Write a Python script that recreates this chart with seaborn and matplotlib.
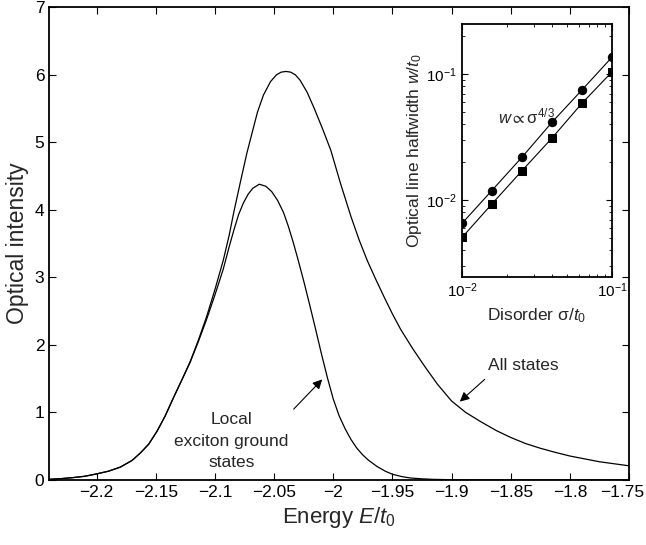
import numpy as np
import pandas as pd
import matplotlib
matplotlib.use("Agg")
import matplotlib.pyplot as plt
import matplotlib.ticker as mticker
import matplotlib.transforms as mtrans
import seaborn as sns

# all states spectrum
all_E = [-2.24, -2.23, -2.22, -2.21, -2.2, -2.19, -2.18, -2.17, -2.163, -2.156,
         -2.149, -2.142, -2.135, -2.128, -2.121, -2.114, -2.107, -2.1, -2.093,
         -2.088, -2.084, -2.078, -2.073, -2.068, -2.064, -2.059, -2.053, -2.048,
         -2.044, -2.04, -2.036, -2.032, -2.028, -2.022, -2.016, -2.009, -2.002,
         -1.994, -1.985, -1.978, -1.971, -1.964, -1.957, -1.95, -1.943, -1.933,
         -1.923, -1.912, -1.9, -1.888, -1.875, -1.862, -1.85, -1.8375, -1.825,
         -1.8125, -1.8, -1.775, -1.75]
all_I = [0.01, 0.02, 0.035, 0.055, 0.09, 0.13, 0.19, 0.29, 0.4, 0.53,
         0.72, 0.95, 1.22, 1.48, 1.75, 2.07, 2.42, 2.82, 3.25,
         3.62, 3.97, 4.45, 4.84, 5.18, 5.45, 5.7, 5.9, 6.0,
         6.04, 6.05, 6.04, 6.0, 5.92, 5.74, 5.5, 5.2, 4.88,
         4.4, 3.9, 3.55, 3.24, 2.97, 2.71, 2.46, 2.23, 1.95,
         1.69, 1.42, 1.17, 1.0, 0.86, 0.73, 0.63, 0.54, 0.47,
         0.41, 0.355, 0.27, 0.21]

# local exciton ground states
loc_E = [-2.24, -2.23, -2.22, -2.21, -2.2, -2.19, -2.18, -2.17, -2.163, -2.156,
         -2.149, -2.142, -2.135, -2.128, -2.121, -2.114, -2.107, -2.1, -2.093,
         -2.088, -2.084, -2.08, -2.076, -2.072, -2.068, -2.0625, -2.057, -2.052,
         -2.047, -2.042, -2.038, -2.034, -2.03, -2.025, -2.02, -2.015, -2.01,
         -2.005, -2.0, -1.995, -1.99, -1.985, -1.98, -1.975, -1.97, -1.963,
         -1.956, -1.95, -1.942, -1.935, -1.925, -1.915, -1.9, -1.88, -1.85, -1.75]
loc_I = [0.01, 0.02, 0.035, 0.055, 0.09, 0.13, 0.19, 0.29, 0.4, 0.53,
         0.72, 0.95, 1.22, 1.48, 1.74, 2.05, 2.38, 2.74, 3.12,
         3.45, 3.7, 3.93, 4.1, 4.23, 4.32, 4.38, 4.35, 4.27,
         4.14, 3.96, 3.76, 3.53, 3.28, 2.95, 2.6, 2.24, 1.87,
         1.52, 1.2, 0.95, 0.76, 0.6, 0.47, 0.37, 0.29, 0.2,
         0.13, 0.085, 0.05, 0.03, 0.017, 0.009, 0.004, 0.001, 0.0, 0.0]

# inset: halfwidth vs disorder
sigma = [0.01, 0.0158, 0.0251, 0.0398, 0.0631, 0.1]
w_circ = [0.00653, 0.0119, 0.0219, 0.0415, 0.075, 0.1365]
w_sq = [0.00505, 0.0093, 0.0171, 0.0311, 0.0588, 0.1043]

xticks = [-2.2, -2.15, -2.1, -2.05, -2.0, -1.95, -1.9, -1.85, -1.8, -1.75]

sns.set_style("ticks")
plt.rcParams['font.family'] = ['Liberation Sans', 'DejaVu Sans']
plt.rcParams['mathtext.fontset'] = 'custom'
plt.rcParams['mathtext.rm'] = 'Liberation Sans'
plt.rcParams['mathtext.it'] = 'Liberation Sans:italic'
plt.rcParams['mathtext.bf'] = 'Liberation Sans:bold'
plt.rcParams['mathtext.fallback'] = 'stixsans'

fig = plt.figure(figsize=(6.46, 5.45), dpi=100)
ax = fig.add_axes([0.0763, 0.1193, 0.8974, 0.8673])

df_all = pd.DataFrame({'E': all_E, 'I': all_I})
df_loc = pd.DataFrame({'E': loc_E, 'I': loc_I})
sns.lineplot(data=df_all, x='E', y='I', ax=ax, color='black', lw=0.9,
             sort=False, estimator=None)
sns.lineplot(data=df_loc, x='E', y='I', ax=ax, color='black', lw=0.9,
             sort=False, estimator=None)

ax.set_xlim(-2.24, -1.75)
ax.set_ylim(0, 7)
ax.set_xticks(xticks)
ax.set_yticks(range(0, 8))
ax.xaxis.set_major_formatter(mticker.FuncFormatter(
    lambda v, p: ('%g' % round(v, 3)).replace('-', '\u2212')))
ax.tick_params(direction='in', top=True, right=True, length=5, width=0.8,
               labelsize=12.5, colors='black')
for s in ax.spines.values():
    s.set_linewidth(1.3)
    s.set_color('black')
ax.set_xlabel('Energy $E/t_0$', fontsize=16)
ax.set_ylabel('Optical intensity', fontsize=16.5)

# last tick label sits right at the figure edge, nudge it in a bit
last = ax.xaxis.get_major_ticks()[-1].label1
last.set_transform(last.get_transform() +
                   mtrans.ScaledTranslation(-5 / 72, 0, fig.dpi_scale_trans))

# annotations
ax.text(-2.086, 0.89, 'Local', ha='center', va='center', fontsize=12.5)
ax.text(-2.086, 0.57, 'exciton ground', ha='center', va='center', fontsize=12.5)
ax.text(-2.086, 0.26, 'states', ha='center', va='center', fontsize=12.5)
ax.annotate('', xy=(-2.0093, 1.49), xytext=(-2.0334, 1.05),
            arrowprops=dict(arrowstyle='-|>', color='black', lw=0.8,
                            mutation_scale=14, shrinkA=0, shrinkB=0))
ax.text(-1.839, 1.70, 'All states', ha='center', va='center', fontsize=12.5)
ax.annotate('', xy=(-1.893, 1.16), xytext=(-1.872, 1.49),
            arrowprops=dict(arrowstyle='-|>', color='black', lw=0.8,
                            mutation_scale=14, shrinkA=0, shrinkB=0))

# inset
ins = fig.add_axes([0.7152, 0.4917, 0.2322, 0.4642])
df_in = pd.DataFrame({'s': sigma, 'c': w_circ, 'q': w_sq})
sns.lineplot(data=df_in, x='s', y='c', ax=ins, color='black', lw=0.8,
             marker='o', markersize=6, markeredgecolor='black')
sns.lineplot(data=df_in, x='s', y='q', ax=ins, color='black', lw=0.8,
             marker='s', markersize=5.5, markeredgecolor='black')
ins.set_xscale('log')
ins.set_yscale('log')
ins.set_xlim(0.01, 0.1)
ins.set_ylim(0.00245, 0.25)
ins.set_yticks([0.01, 0.1])
ins.set_xticks([0.01, 0.1])
ins.xaxis.set_minor_formatter(mticker.NullFormatter())
ins.yaxis.set_minor_formatter(mticker.NullFormatter())
ins.tick_params(which='both', direction='in', top=True, right=True,
                labelsize=11, colors='black')
ins.tick_params(which='major', length=4, width=0.8)
ins.tick_params(which='minor', length=2, width=0.6)
for s in ins.spines.values():
    s.set_linewidth(1.3)
    s.set_color('black')
ins.set_xlabel('Disorder σ/$t_0$', fontsize=12.5, labelpad=4)
ins.set_ylabel('Optical line halfwidth $w/t_0$', fontsize=12.5, labelpad=2)
ins.text(0.0174, 0.041, r'$w\propto$σ$^{4/3}$', ha='left', va='baseline',
         fontsize=12)

fig.savefig('out.png', dpi=100)
